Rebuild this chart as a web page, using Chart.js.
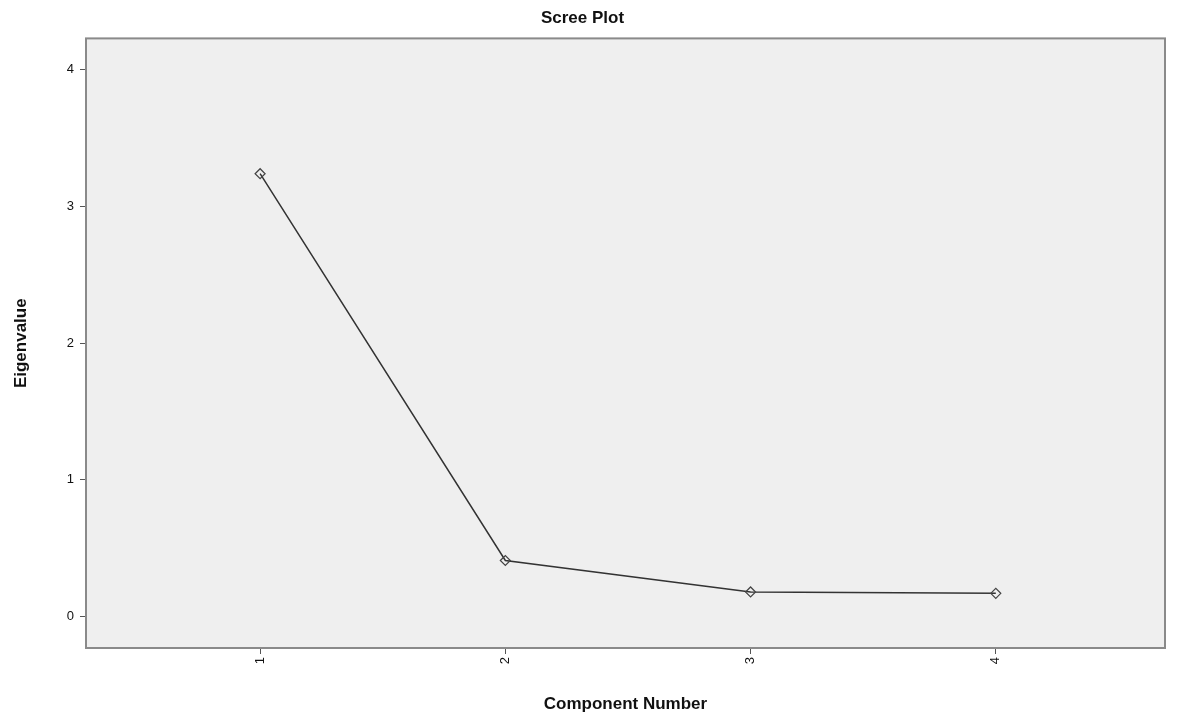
<!DOCTYPE html>
<html>
<head>
<meta charset="utf-8">
<script src="https://cdn.jsdelivr.net/npm/chart.js@4/dist/chart.umd.min.js"></script>
<style>
    html, body { margin: 0; padding: 0; background: #fff; }
    #wrap { width: 1180px; height: 721px; }
</style>
</head>
<body>
<div id="wrap"><canvas id="screeChart"></canvas></div>
<script>
// Scree plot data
const components = [1, 2, 3, 4];
const eigenvalues = [3.24, 0.41, 0.18, 0.17];
const yTicks = [0, 1, 2, 3, 4];

// Light grey plot area with a grey frame
const plotBackground = {
    id: 'plotBackground',
    beforeDraw(chart) {
        const { ctx, chartArea: a } = chart;
        ctx.save();
        ctx.fillStyle = '#efefef';
        ctx.fillRect(a.left, a.top, a.right - a.left, a.bottom - a.top);
        ctx.restore();
    },
    afterDraw(chart) {
        const { ctx, chartArea: a } = chart;
        ctx.save();
        ctx.strokeStyle = '#8a8a8a';
        ctx.lineWidth = 2;
        ctx.strokeRect(a.left, a.top, a.right - a.left, a.bottom - a.top);
        ctx.restore();
    }
};

const ctx = document.getElementById('screeChart').getContext('2d');

new Chart(ctx, {
    type: 'line',
    data: {
        datasets: [{
            data: components.map((c, i) => ({ x: c, y: eigenvalues[i] })),
            borderColor: '#333',
            borderWidth: 1.5,
            pointStyle: 'rectRot',
            pointRadius: 5,
            pointBackgroundColor: 'rgba(0,0,0,0)',
            pointBorderColor: '#444',
            pointBorderWidth: 1.2,
            tension: 0
        }]
    },
    options: {
        responsive: true,
        maintainAspectRatio: false,
        animation: false,
        layout: { padding: { left: 0, right: 15, top: 0, bottom: 0 } },
        plugins: {
            legend: { display: false },
            tooltip: { enabled: false },
            title: {
                display: true,
                text: 'Scree Plot',
                color: '#111',
                font: { family: 'Liberation Sans', size: 17, weight: 'bold' },
                padding: { top: 8, bottom: 10 }
            }
        },
        scales: {
            x: {
                type: 'linear',
                min: 0.29,
                max: 4.69,
                afterBuildTicks: (axis) => { axis.ticks = components.map(v => ({ value: v })); },
                afterFit: (axis) => { axis.height = 73; },
                border: { display: false },
                grid: { drawOnChartArea: false, drawTicks: true, tickLength: 6, color: '#555' },
                ticks: {
                    color: '#111',
                    minRotation: 90,
                    maxRotation: 90,
                    font: { family: 'Liberation Sans', size: 13 }
                },
                title: {
                    display: true,
                    text: 'Component Number',
                    color: '#111',
                    font: { family: 'Liberation Sans', size: 17, weight: 'bold' },
                    padding: { top: 2, bottom: 6 }
                }
            },
            y: {
                min: -0.23,
                max: 4.23,
                afterBuildTicks: (axis) => { axis.ticks = yTicks.map(v => ({ value: v })); },
                afterFit: (axis) => { axis.width = 86; },
                border: { display: false },
                grid: { drawOnChartArea: false, drawTicks: true, tickLength: 6, color: '#555' },
                ticks: {
                    color: '#111',
                    padding: 6,
                    font: { family: 'Liberation Sans', size: 13 }
                },
                title: {
                    display: true,
                    text: 'Eigenvalue',
                    color: '#111',
                    font: { family: 'Liberation Sans', size: 17, weight: 'bold' },
                    padding: { top: 11, bottom: 4 }
                }
            }
        }
    },
    plugins: [plotBackground]
});
</script>
</body>
</html>
